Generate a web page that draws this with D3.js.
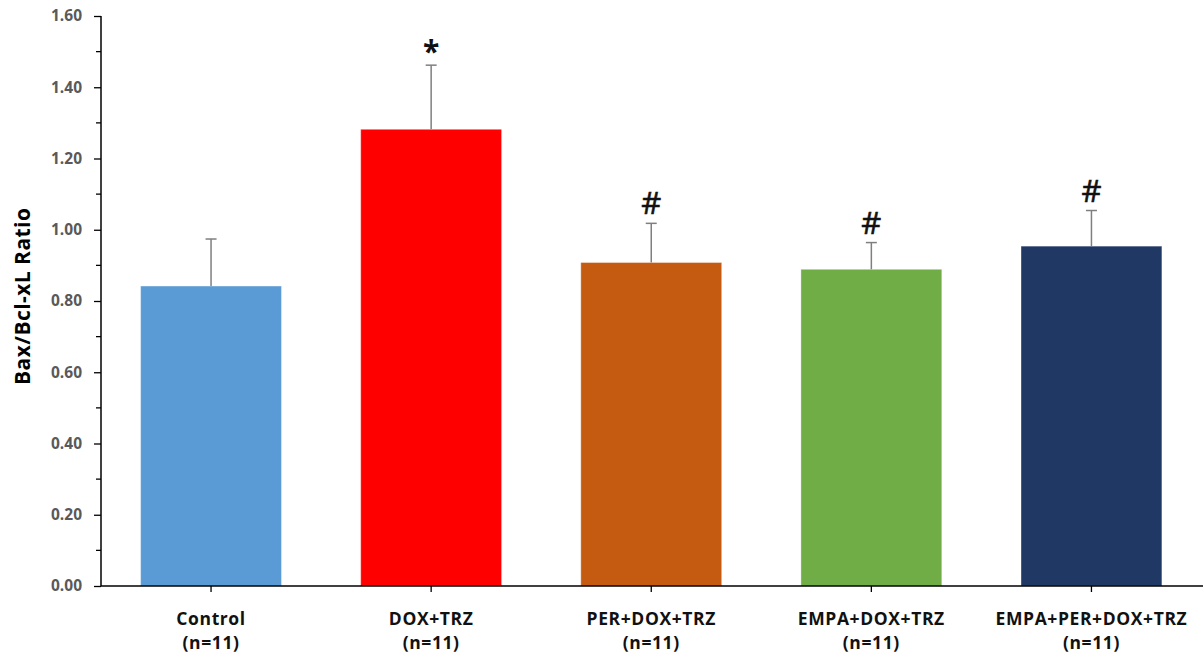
<!DOCTYPE html>
<html>
<head>
<meta charset="utf-8">
<script src="https://cdn.jsdelivr.net/npm/d3@7"></script>
<style>
  html, body { margin: 0; padding: 0; background: #fff; }
  svg { display: block; }
  text { font-family: "Open Sans", "Liberation Sans", sans-serif; }
</style>
</head>
<body>
<svg id="chart" width="1203" height="659"></svg>
<script>
// Bax/Bcl-xL ratio per treatment group (mean and upper error)
const groups = ["Control", "DOX+TRZ", "PER+DOX+TRZ", "EMPA+DOX+TRZ", "EMPA+PER+DOX+TRZ"];
const groupN = ["(n=11)", "(n=11)", "(n=11)", "(n=11)", "(n=11)"];
const means = [0.842, 1.282, 0.908, 0.889, 0.954];
const errors = [0.132, 0.180, 0.110, 0.075, 0.100];
const marks = ["", "*", "#", "#", "#"];
const barColors = ["#5b9bd5", "#ff0000", "#c55a11", "#70ad47", "#203864"];
const yTicks = [0, 0.2, 0.4, 0.6, 0.8, 1.0, 1.2, 1.4, 1.6];
const yMinorTicks = [0.1, 0.3, 0.5, 0.7, 0.9, 1.1, 1.3, 1.5];

const svg = d3.select("#chart");
const plotLeft = 101, plotRight = 1201.5, plotTop = 16, plotBottom = 586;

const x = d3.scaleBand().domain(groups).range([plotLeft, plotRight]).paddingInner(0.36).paddingOuter(0.18);
const y = d3.scaleLinear().domain([0, 1.6]).range([plotBottom, plotTop]);

// bars
svg.append("g").selectAll("rect").data(groups).join("rect")
  .attr("x", d => x(d))
  .attr("y", (d, i) => y(means[i]))
  .attr("width", x.bandwidth())
  .attr("height", (d, i) => y(0) - y(means[i]))
  .attr("fill", (d, i) => barColors[i])
  .attr("stroke", "rgba(255,255,255,0.35)")
  .attr("stroke-width", 1);

// upper error bars
const eb = svg.append("g").attr("stroke", "#7f7f7f").attr("stroke-width", 1.5);
groups.forEach((g, i) => {
  const cx = x(g) + x.bandwidth() / 2;
  eb.append("line").attr("x1", cx).attr("x2", cx)
    .attr("y1", y(means[i])).attr("y2", y(means[i] + errors[i]));
  eb.append("line").attr("x1", cx - 5.5).attr("x2", cx + 5.5)
    .attr("y1", y(means[i] + errors[i])).attr("y2", y(means[i] + errors[i]));
});

// significance symbols
svg.append("g").selectAll("text").data(groups).join("text")
  .attr("x", d => x(d) + x.bandwidth() / 2)
  .attr("y", (d, i) => y(means[i] + errors[i]) - (marks[i] === "*" ? 3 : 9))
  .attr("text-anchor", "middle")
  .attr("font-size", (d, i) => marks[i] === "*" ? 30 : 31)
  .attr("font-weight", (d, i) => marks[i] === "*" ? "bold" : "normal")
  .attr("stroke", "#111").attr("stroke-width", (d, i) => marks[i] === "*" ? 0 : 0.6)
  .attr("font-family", "'DejaVu Sans', sans-serif")
  .attr("fill", "#111")
  .text((d, i) => marks[i]);

// y axis
const yAxis = d3.axisLeft(y).tickValues(yTicks).tickFormat(d3.format(".2f")).tickSize(7).tickPadding(12);
const gy = svg.append("g").attr("transform", `translate(${plotLeft},0)`).call(yAxis);
gy.select(".domain").attr("stroke", "#000").attr("stroke-width", 1.5).attr("d", `M0,${plotTop}V${plotBottom}`);
gy.selectAll(".tick line").attr("stroke", "#000").attr("stroke-width", 1.3);
gy.selectAll(".tick text").attr("font-size", 15.5).attr("font-weight", "bold").attr("fill", "#595959")
  .attr("font-family", "'Open Sans', sans-serif");
svg.append("g").selectAll("line").data(yMinorTicks).join("line")
  .attr("x1", plotLeft - 5).attr("x2", plotLeft).attr("y1", d => y(d)).attr("y2", d => y(d))
  .attr("stroke", "#000").attr("stroke-width", 1.3);

// x axis
const xAxis = d3.axisBottom(x).tickSize(6).tickFormat("");
const gx = svg.append("g").attr("transform", `translate(0,${plotBottom})`).call(xAxis);
gx.select(".domain").attr("stroke", "#000").attr("stroke-width", 1.5).attr("d", `M${plotLeft},0H1203`);
gx.selectAll(".tick line").attr("stroke", "#000").attr("stroke-width", 1.3);

// category labels
const lab = svg.append("g").attr("text-anchor", "middle").attr("font-size", 17.5)
  .attr("letter-spacing", 0.6).attr("font-weight", "bold").attr("fill", "#111");
groups.forEach((g, i) => {
  const cx = x(g) + x.bandwidth() / 2;
  lab.append("text").attr("x", cx).attr("y", 625).text(g);
  lab.append("text").attr("x", cx).attr("y", 649).text(groupN[i]);
});

// y axis title
svg.append("text")
  .attr("transform", `translate(30,${(208 + 385) / 2}) rotate(-90)`)
  .attr("text-anchor", "middle")
  .attr("font-size", 21).attr("font-weight", "bold").attr("fill", "#000")
  .attr("textLength", 177).attr("lengthAdjust", "spacing")
  .text("Bax/Bcl-xL Ratio");
</script>
</body>
</html>
